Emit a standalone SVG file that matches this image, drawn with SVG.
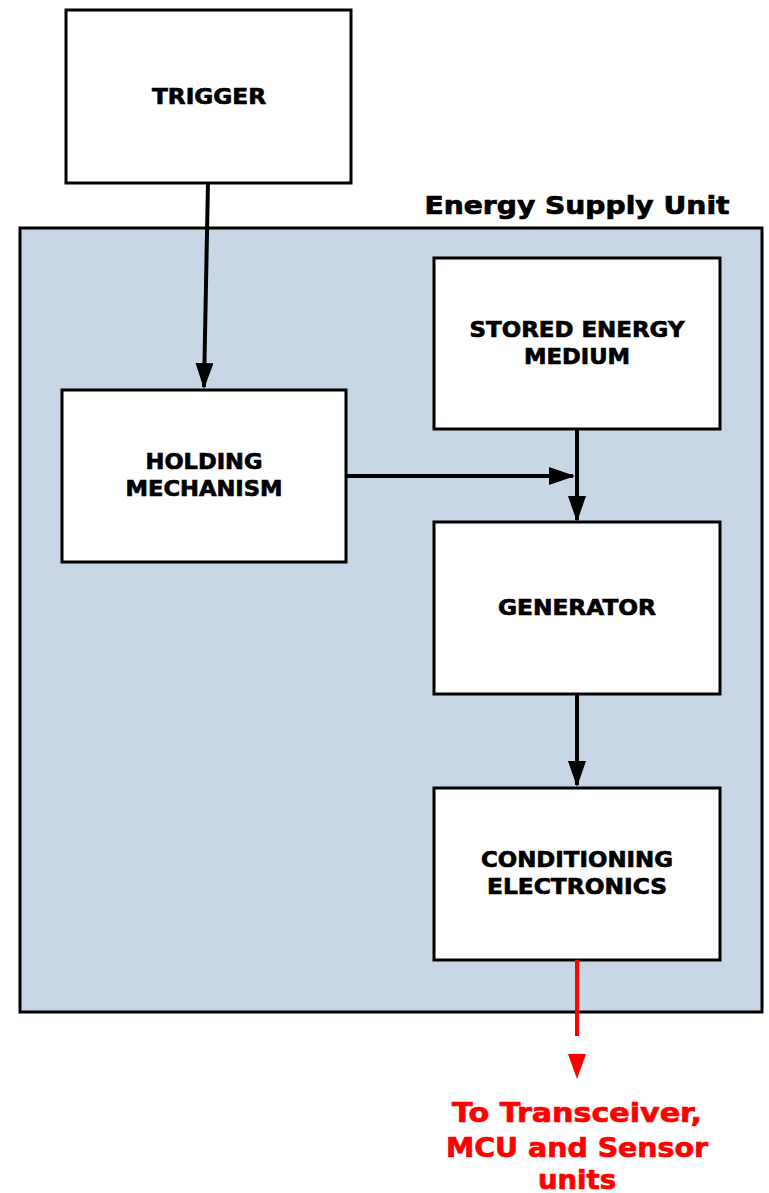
<svg xmlns="http://www.w3.org/2000/svg" width="769" height="1193" viewBox="0 0 769 1193">
<defs>
<style>
.box{fill:#fff;stroke:#000;stroke-width:3}
.lbl{font-family:"DejaVu Sans","Liberation Sans",sans-serif;font-weight:bold;font-size:22px;fill:#000;stroke:#000;stroke-width:0.7;text-anchor:middle}
.wire{stroke:#000;stroke-width:4;fill:none}
.red{fill:#ff0000;stroke:#ff0000;stroke-width:0.7;font-family:"DejaVu Sans","Liberation Sans",sans-serif;font-weight:bold;font-size:26px;text-anchor:middle}
</style>
<marker id="ah" markerWidth="26" markerHeight="18" refX="24" refY="9" orient="auto" markerUnits="userSpaceOnUse">
<path d="M0,0 L26,9 L0,18 Z" fill="#000"/>
</marker>
</defs>
<g id="container">
<rect x="20" y="228" width="742" height="784" fill="#c9d6e5" stroke="#000" stroke-width="3"/>
<text x="577" y="214" class="lbl" style="font-size:24px" textLength="305" lengthAdjust="spacingAndGlyphs">Energy Supply Unit</text>
</g>
<g id="trigger">
<rect class="box" x="66" y="10" width="285" height="173"/>
<text x="209" y="104" class="lbl" textLength="114" lengthAdjust="spacingAndGlyphs">TRIGGER</text>
</g>
<g id="stored">
<rect class="box" x="434" y="258" width="286" height="171"/>
<text x="577" y="337" class="lbl" textLength="215" lengthAdjust="spacingAndGlyphs">STORED ENERGY</text>
<text x="577" y="364" class="lbl" textLength="106" lengthAdjust="spacingAndGlyphs">MEDIUM</text>
</g>
<g id="holding">
<rect class="box" x="62" y="390" width="284" height="172"/>
<text x="204" y="469" class="lbl" textLength="117" lengthAdjust="spacingAndGlyphs">HOLDING</text>
<text x="204" y="496" class="lbl" textLength="157" lengthAdjust="spacingAndGlyphs">MECHANISM</text>
</g>
<g id="generator">
<rect class="box" x="434" y="522" width="286" height="172"/>
<text x="577" y="615" class="lbl" textLength="158" lengthAdjust="spacingAndGlyphs">GENERATOR</text>
</g>
<g id="conditioning">
<rect class="box" x="434" y="788" width="286" height="172"/>
<text x="577" y="867" class="lbl" textLength="192" lengthAdjust="spacingAndGlyphs">CONDITIONING</text>
<text x="577" y="894" class="lbl" textLength="180" lengthAdjust="spacingAndGlyphs">ELECTRONICS</text>
</g>
<g id="connectors">
<line class="wire" x1="208" y1="182" x2="204" y2="387" marker-end="url(#ah)"/>
<line class="wire" x1="346" y1="476" x2="573" y2="476" marker-end="url(#ah)"/>
<line class="wire" x1="577" y1="429" x2="577" y2="520" marker-end="url(#ah)"/>
<line class="wire" x1="577" y1="694" x2="577" y2="785" marker-end="url(#ah)"/>
<line x1="577" y1="960" x2="577" y2="1036" stroke="#ff0000" stroke-width="4"/>
<path d="M568,1054 L586,1054 L577,1079 Z" fill="#ff0000"/>
</g>
<g id="output-label">
<text x="577" y="1122" class="red" textLength="250" lengthAdjust="spacingAndGlyphs">To Transceiver,</text>
<text x="577" y="1157" class="red" textLength="262" lengthAdjust="spacingAndGlyphs">MCU and Sensor</text>
<text x="577" y="1189" class="red" textLength="78" lengthAdjust="spacingAndGlyphs">units</text>
</g>
</svg>
